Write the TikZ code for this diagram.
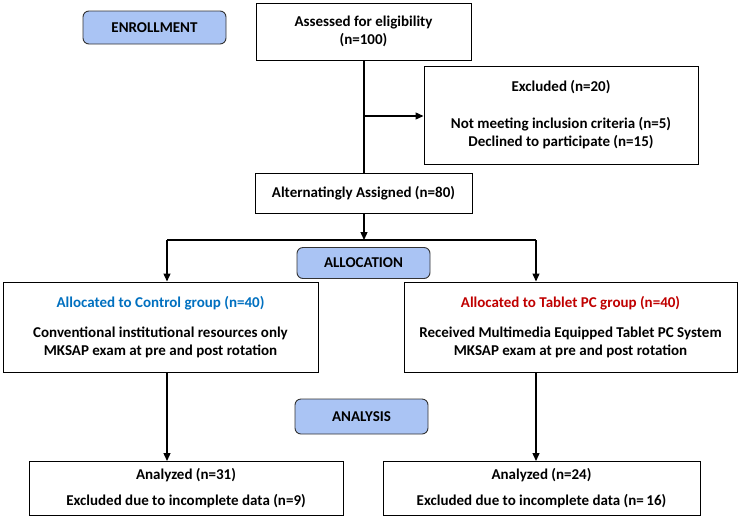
\documentclass[tikz,border=0pt]{standalone}
\usepackage{fontspec}
\setmainfont{Carlito}
\usetikzlibrary{arrows.meta}
\definecolor{phasefill}{RGB}{170,196,244}
\definecolor{ctlblue}{RGB}{0,112,192}
\definecolor{tabred}{RGB}{192,0,0}
\begin{document}
\begin{tikzpicture}[x=1pt,y=-1pt,
  every node/.style={font=\bfseries\fontsize{15}{18}\selectfont, inner sep=0pt},
  box/.style={draw=black, line width=1pt, fill=white, align=center, anchor=center},
  phase/.style={draw=black!80, line width=0.9pt, fill=phasefill, rounded corners=6pt, align=center, anchor=center, minimum width=133pt},
  conn/.style={line width=1.3pt},
  arr/.style={line width=1.3pt, -{Triangle[length=8pt,width=7pt]}}]
\useasboundingbox (0,0) rectangle (741,523);
% phase labels
\node[phase, minimum width=143pt, minimum height=33pt] (enr) at (154.5,27.5) {ENROLLMENT};
\node[phase, minimum height=31pt] (alloc) at (363.5,263) {ALLOCATION};
\node[phase, minimum height=35pt] (anal) at (361.5,416.5) {ANALYSIS};
% boxes
\node[box, minimum width=215pt, minimum height=57pt] (assess) at (363.5,31.5) {Assessed for eligibility\\(n=100)};
\node[box, minimum width=274pt, minimum height=98pt] (excl) at (561,115) {Excluded (n=20)\\[19pt]Not meeting inclusion criteria (n=5)\\Declined to participate (n=15)};
\node[box, minimum width=217pt, minimum height=40pt] (alt) at (363.5,193) {Alternatingly Assigned (n=80)};
\node[box, minimum width=315pt, minimum height=90pt] (ctl) at (160.5,327) {\textcolor{ctlblue}{Allocated to Control group (n=40)}\\[12pt]Conventional institutional resources only\\MKSAP exam at pre and post rotation};
\node[box, minimum width=333pt, minimum height=90pt] (tab) at (570.5,327) {\textcolor{tabred}{Allocated to Tablet PC group (n=40)}\\[12pt]Received Multimedia Equipped Tablet PC System\\MKSAP exam at pre and post rotation};
\node[box, minimum width=314pt, minimum height=54pt] (anl) at (186,488.5) {Analyzed (n=31)\\[8pt]Excluded due to incomplete data (n=9)};
\node[box, minimum width=317pt, minimum height=54pt] (anr) at (541.5,488.5) {Analyzed (n=24)\\[8pt]Excluded due to incomplete data (n=\,16)};
% coordinates
\coordinate (brx) at (364,116);
\coordinate (split) at (364,240);
\coordinate (sl) at (167,240);
\coordinate (sr) at (536,240);
% connectors
\draw[conn] (assess.south -| brx) -- (alt.north -| brx);
\draw[arr] (brx) -- (brx -| excl.west);
\draw[arr] (alt.south -| split) -- (split);
\draw[conn] (sl) -- (sr);
\draw[arr] (sl) -- (sl |- ctl.north);
\draw[arr] (sr) -- (sr |- tab.north);
\draw[arr] (sl |- ctl.south) -- (sl |- anl.north);
\draw[arr] (sr |- tab.south) -- (sr |- anr.north);
\end{tikzpicture}
\end{document}
